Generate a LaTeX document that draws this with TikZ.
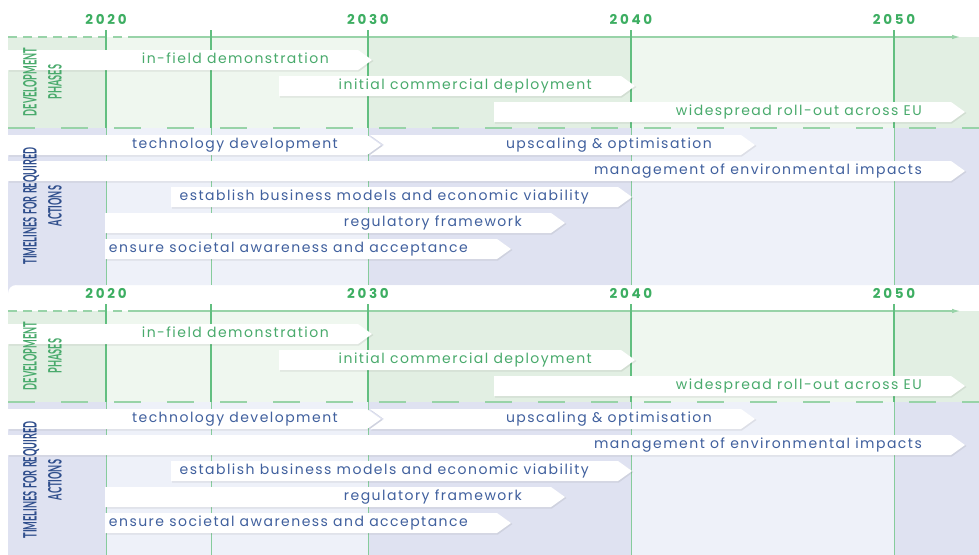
\documentclass[tikz,border=0pt]{standalone}
\usepackage{fontspec}
\setmainfont{Poppins}
\newfontfamily\txtfont[LetterSpace=10.5]{Poppins}
\newfontfamily\yearfont[LetterSpace=20]{Poppins}
\newfontfamily\lblfont{Lato}
\usetikzlibrary{arrows.meta}
\definecolor{tlgreen}{HTML}{49AA6C}
\definecolor{yeargreen}{HTML}{3DAE62}
\definecolor{tlblue}{HTML}{40609E}
\definecolor{lblblue}{HTML}{2F4E8C}
\definecolor{grlight}{HTML}{EFF7EF}
\definecolor{grdark}{HTML}{E2EFE3}
\definecolor{pulight}{HTML}{EEF1F9}
\definecolor{pudark}{HTML}{DFE2F1}
\definecolor{vline}{HTML}{62BF80}
\definecolor{vlinelight}{HTML}{86CC9C}
\definecolor{dashgreen}{HTML}{98D3A8}
\tikzset{
  x=1pt,y=-1pt,
  bartext/.style={font={\txtfont\fontsize{14}{16}\selectfont},inner sep=0pt,text height=10pt,text depth=3pt},
  yearlbl/.style={font={\yearfont\bfseries\fontsize{13.5}{15}\selectfont},text=yeargreen,inner sep=0pt},
  sidelbl/.style={font={\lblfont\bfseries\fontsize{18.5}{25}\selectfont},rotate=90,align=center,inner sep=0pt},
  gridline/.style={draw=vline,line width=1.1pt},
  gridlinelow/.style={draw=vlinelight,line width=1pt},
  sepdash/.style={draw=dashgreen,line width=2.4pt,dash pattern=on 27pt off 26pt},
  topdash/.style={draw=dashgreen,line width=1.6pt,dash pattern=on 9pt off 6pt},
  topline/.style={draw=dashgreen,line width=1.6pt,-{Latex[length=9pt,width=4.5pt]}},
  barshadow/.style={fill=black,opacity=0.07},
  barfill/.style={fill=white}
}
% #1 name, #2 left x, #3 tip x, #4 centre y, #5 text, #6 colour, #7 notch depth
\newcommand{\tlbar}[7]{%
  \fill[barshadow] (#2+1,#4-8.5) -- (#3-13,#4-8.5) -- (#3+1.5,#4+1) -- (#3-13,#4+11.5) -- (#2+1,#4+11.5) -- (#2+1+#7,#4+1) -- cycle;
  \fill[barfill] (#2,#4-10) -- (#3-14,#4-10) -- (#3,#4) -- (#3-14,#4+10) -- (#2,#4+10) -- (#2+#7,#4) -- cycle;
  \node[bartext,text=#6,anchor=east] (#1) at (#3-43,#4) {#5};
}
\newcommand{\tlpanel}[1]{%
  % backgrounds
  \fill[grlight] (8,37) rectangle (979,128);
  \fill[grdark] (8,37) rectangle (106,128);
  \fill[grdark] (368,37) rectangle (631,128);
  \fill[grdark] (894,37) rectangle (979,128);
  \fill[pulight,rounded corners=9pt] (979,128) -- (8,128) -- (8,285) -- (979,285) -- cycle;
  \fill[pudark] (8,128) -- (106,128) -- (106,285) -- (16,285) arc[start angle=270,end angle=180,radius=8] -- cycle;
  \fill[pudark] (368,128) rectangle (631,285);
  \fill[pudark] (894,128) rectangle (979,285);
  % separators
  \draw[sepdash] (8,128) -- (979,128);
  \draw[topdash] (8,37) -- (130,37);
  \coordinate (#1tl) at (130,37);
  \coordinate (#1tr) at (961,37);
  \draw[topline] (#1tl) -- (#1tr);
  % grid lines and years
  \foreach \gx in {106,211,368,631,894}{
    \draw[gridline] (\gx,30) -- (\gx,128);
    \draw[gridlinelow] (\gx,128) -- (\gx,285);
  }
  \node[yearlbl] (#1y2020) at (106,19.5) {2020};
  \node[yearlbl] (#1y2030) at (368,19.5) {2030};
  \node[yearlbl] (#1y2040) at (631,19.5) {2040};
  \node[yearlbl] (#1y2050) at (894,19.5) {2050};
  % bars
  \tlbar{#1ifd}{8}{372}{60}{in-field demonstration}{tlgreen}{0}
  \tlbar{#1icd}{279}{635}{86}{initial commercial deployment}{tlgreen}{0}
  \tlbar{#1wro}{494}{965}{112}{widespread roll-out across EU}{tlgreen}{0}
  \tlbar{#1upo}{370}{755}{145}{upscaling \& optimisation}{tlblue}{14}
  \tlbar{#1ted}{8}{381}{145}{technology development}{tlblue}{0}
  \tlbar{#1mei}{8}{965}{171}{management of environmental impacts}{tlblue}{0}
  \tlbar{#1ebm}{171}{632}{197}{establish business models and economic viability}{tlblue}{0}
  \tlbar{#1rgf}{105}{565}{223}{regulatory framework}{tlblue}{0}
  \tlbar{#1esa}{105}{511}{249}{ensure societal awareness and acceptance}{tlblue}{0}
  % side labels
  \node[sidelbl,text=tlgreen] (#1devlbl) at (42.5,82) {\scalebox{0.5}[1]{DEVELOPMENT}\\\scalebox{0.5}[1]{PHASES}};
  \node[sidelbl,text=lblblue] (#1actlbl) at (42.5,206) {\scalebox{0.5}[1]{TIMELINES FOR REQUIRED}\\\scalebox{0.5}[1]{ACTIONS}};
}
\begin{document}
\begin{tikzpicture}
\useasboundingbox (0,0) rectangle (979,554);
\clip (0,0) rectangle (979,554);
\fill[white] (0,0) rectangle (979,554);
\tlpanel{a}
\begin{scope}[yshift=-274pt]
\tlpanel{b}
\end{scope}
\end{tikzpicture}
\end{document}
